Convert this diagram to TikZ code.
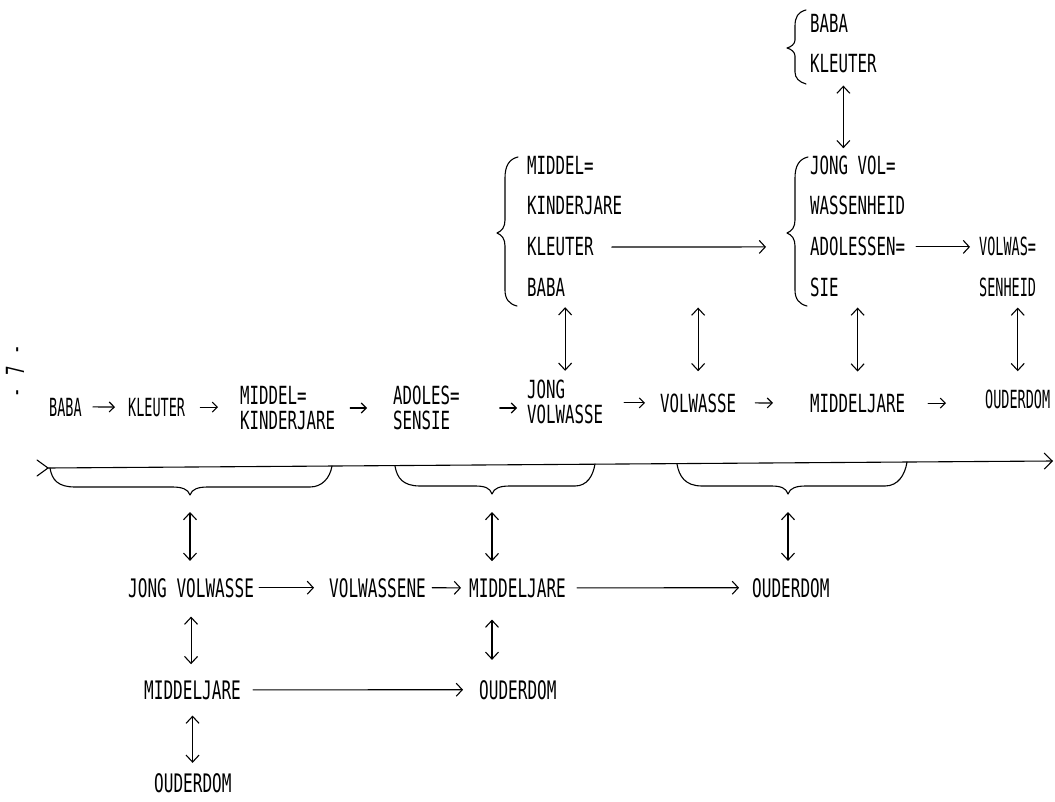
\documentclass[tikz,border=0pt]{standalone}
\usepackage{fontspec}
\usetikzlibrary{arrows.meta}
\newfontfamily\tw{DejaVu Sans Mono}[FakeStretch=0.63]
\newfontfamily\twc{DejaVu Sans Mono}[FakeStretch=0.54]
\begin{document}
\begin{tikzpicture}[x=1pt,y=-1pt,
  lbl/.style={inner sep=0pt, font={\tw\fontsize{25}{25}\selectfont}, align=left},
  lblc/.style={inner sep=0pt, font={\twc\fontsize{25}{25}\selectfont}},
  lblb/.style={inner sep=0pt, font={\tw\fontsize{25.5}{26}\selectfont}},
  ln/.style={line width=1.1pt, line cap=round, line join=round},
  arr/.style={ln, -{Straight Barb[length=5pt,width=10pt]}},
  arrl/.style={ln, -{Straight Barb[length=6pt,width=13pt]}},
  dbl/.style={ln, {Straight Barb[length=7pt,width=13pt]}-{Straight Barb[length=7pt,width=13pt]}}]
\useasboundingbox (0,0) rectangle (1055,802);
\fill[white] (0,0) rectangle (1055,802);

% page number
\node[lbl, rotate=90] (pg) at (15,371) {-\hspace{12pt}7\hspace{12pt}-};

% top small group
\node[lbl, anchor=base west] (t1) at (810,33) {BABA};
\node[lbl, anchor=base west] (t2) at (810,73) {KLEUTER};
\draw[ln] (806,10) .. controls (798,12) and (795,17) .. (795,26) -- (795,40)
  .. controls (795,44) and (791,47) .. (787,48) .. controls (791,49) and (795,52) .. (795,56)
  -- (795,72) .. controls (795,78) and (799,82) .. (806,84);

% left group
\node[lbl, anchor=base west] (l1) at (527,175) {MIDDEL=};
\node[lbl, anchor=base west] (l2) at (527,215) {KINDERJARE};
\node[lbl, anchor=base west] (l3) at (527,256) {KLEUTER};
\node[lbl, anchor=base west] (l4) at (527,297) {BABA};
\draw[ln] (518,157) .. controls (509,159) and (505,166) .. (505,178) -- (505,220)
  .. controls (505,227) and (502,231) .. (497,233) .. controls (502,235) and (505,239) .. (505,246)
  -- (505,290) .. controls (505,299) and (509,304) .. (517,306);

% right group
\node[lbl, anchor=base west] (r1) at (810,175) {JONG VOL=};
\node[lbl, anchor=base west] (r2) at (810,215) {WASSENHEID};
\node[lbl, anchor=base west] (r3) at (810,256) {ADOLESSEN=};
\node[lbl, anchor=base west] (r4) at (810,297) {SIE};
\draw[ln] (808,157) .. controls (799,159) and (795,166) .. (795,178) -- (795,220)
  .. controls (795,227) and (792,231) .. (787,233) .. controls (792,235) and (795,239) .. (795,246)
  -- (795,290) .. controls (795,299) and (799,304) .. (807,306);
\node[lblc, anchor=base west] (v1) at (979,256) {VOLWAS=};
\node[lblc, anchor=base west] (v2) at (979,297) {SENHEID};

\draw[arrl, shorten <=18pt, shorten >=44pt] (l3.east) -- (r3.west);
\draw[arrl, shorten <=11pt, shorten >=9pt] (r3.east) -- (v1.west);
\draw[dbl, shorten <=12pt, shorten >=8pt] (t2.south) -- (t2.south |- r1.north);

% main row
\node[lblc, anchor=base west] (m1) at (49,416) {BABA};
\node[lblc, anchor=base west] (m2) at (128,416) {KLEUTER};
\node[lbl, anchor=west] (m3) at (240,408) {MIDDEL=\\KINDERJARE};
\node[lbl, anchor=west] (m4) at (393,408) {ADOLES=\\SENSIE};
\node[lbl, anchor=west] (m5) at (527,402) {JONG\\VOLWASSE};
\node[lbl, anchor=base west] (m6) at (660,412) {VOLWASSE};
\node[lbl, anchor=base west] (m7) at (810,412) {MIDDELJARE};
\node[lblc, anchor=base west] (m8) at (985,408) {OUDERDOM};

\draw[arr, shorten <=11pt, shorten >=13pt] (m1.east) -- (m2.west);
\draw[arr, shorten <=15pt, shorten >=22pt] (m2.east) -- (m2.east -| m3.west);
\draw[arr, shorten <=15pt, shorten >=26pt] (m3.east) -- (m4.west);
\draw[arr, shorten <=40pt, shorten >=10pt] (m4.east) -- (m4.east -| m5.west);
\draw[arr, shorten <=21pt, shorten >=15pt] (m6.west -| m5.east) -- (m6.west);
\draw[arr, shorten <=19pt, shorten >=37pt] (m6.east) -- (m7.west);
\draw[arr, shorten <=23pt, shorten >=39pt] (m7.east) -- (m8.west |- m7.east);

% double arrows between top groups and main row
\draw[dbl, shorten <=10pt, shorten >=9pt] (l4.south -| m5.north) -- (m5.north);
\draw[dbl, shorten <=10pt, shorten >=22pt] (r4.south -| m6.north) -- (m6.north);
\draw[dbl, shorten <=10pt, shorten >=22pt] (r4.south -| m7.north) -- (m7.north);
\draw[dbl, shorten <=10pt, shorten >=18pt] (v2.south -| m8.north) -- (m8.north);

% axis
\coordinate (axL) at (48,468);
\coordinate (axR) at (1053,461);
\draw[ln] (37,460) -- (axL) -- (37,476);
\draw[ln, -{Straight Barb[length=8pt,width=16pt]}] (axL) -- (axR);

% braces under the axis
\coordinate (bA) at (190,495);
\coordinate (bB) at (492,494);
\coordinate (bC) at (788,494);
\draw[ln] (50,468) .. controls (52,480) and (58,487) .. (75,487) -- (172,487)
  .. controls (182,487) and (188,489) .. (bA) .. controls (192,489) and (198,487) .. (208,487)
  -- (310,487) .. controls (322,487) and (330,478) .. (332,466);
\draw[ln] (395,466) .. controls (397,478) and (403,486) .. (420,486) -- (475,486)
  .. controls (485,486) and (490,488) .. (bB) .. controls (494,488) and (500,486) .. (510,486)
  -- (575,486) .. controls (587,486) and (593,476) .. (595,464);
\draw[ln] (677,464) .. controls (679,476) and (685,486) .. (702,486) -- (771,486)
  .. controls (781,486) and (786,488) .. (bC) .. controls (790,488) and (796,486) .. (806,486)
  -- (885,486) .. controls (898,486) and (905,475) .. (907,462);

% bottom rows
\node[lblb, anchor=base west] (b1) at (128,597) {JONG VOLWASSE};
\node[lblb, anchor=base west] (b2) at (329,597) {VOLWASSENE};
\node[lblb, anchor=base west] (b3) at (469,597) {MIDDELJARE};
\node[lblb, anchor=base west] (b4) at (752,597) {OUDERDOM};
\node[lblb, anchor=base west] (c1) at (144,699) {MIDDELJARE};
\node[lblb, anchor=base west] (c2) at (479,699) {OUDERDOM};
\node[lblb, anchor=base west] (e1) at (154,792) {OUDERDOM};

\draw[dbl, shorten <=17pt, shorten >=17pt] (bA) -- (bA |- b1.north);
\draw[dbl, shorten <=18pt, shorten >=17pt] (bB) -- (bB |- b3.north);
\draw[dbl, shorten <=18pt, shorten >=17pt] (bC) -- (bC |- b4.north);

\draw[arrl, shorten <=5pt, shorten >=15pt] (b1.east) -- (b2.west);
\draw[arrl, shorten <=6pt, shorten >=8pt] (b2.east) -- (b3.west);
\draw[arrl, shorten <=11pt, shorten >=13pt] (b3.east) -- (b4.west);
\draw[arrl, shorten <=12pt, shorten >=16pt] (c1.east) -- (c2.west);

\draw[dbl, shorten <=19pt, shorten >=16pt] (b1.south) -- (b1.south |- c1.north);
\draw[dbl, shorten <=16pt, shorten >=10pt] (c1.south) -- (c1.south |- e1.north);
\draw[dbl, shorten <=22pt, shorten >=20pt] (b3.south -| bB) -- (c2.north -| bB);
\end{tikzpicture}
\end{document}
